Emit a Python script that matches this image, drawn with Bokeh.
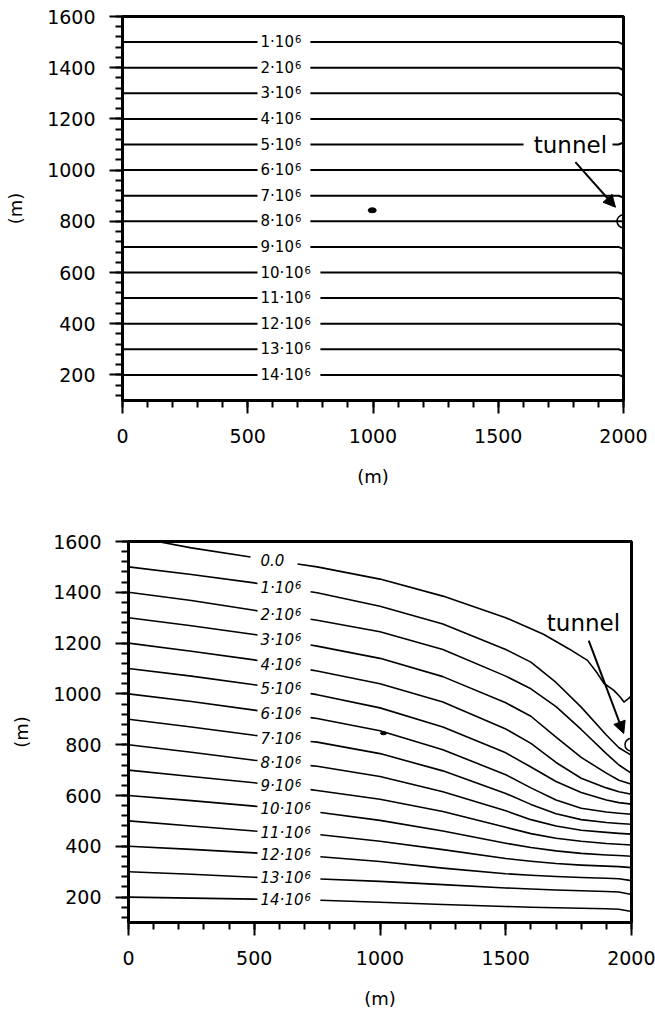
import numpy as np
from bokeh.plotting import figure
from bokeh.models import Range1d, SingleIntervalTicker, Arrow, NormalHead
from bokeh.layouts import column
from bokeh.embed import file_html
from bokeh.resources import INLINE
from bokeh.core.properties import value

FONT = "DejaVu Sans"

# ---------------- data ----------------
levels = [1, 2, 3, 4, 5, 6, 7, 8, 9, 10, 11, 12, 13, 14]
level_base = [f"{n}\u00b710" for n in levels]
level_exp = ["6"] * len(levels)
zero_label = "0.0"

# top panel: horizontal contours (x positions and y at those positions)
top_x = [0, 1980, 2000]
top_y_start = [1500, 1400, 1300, 1200, 1100, 1000, 900, 800, 700, 600, 500, 400, 300, 200]
top_y_end = [1490, 1390, 1290, 1190, 1108, 992, 893, 800, 692, 593, 493, 393, 293, 193]

# bottom panel: curved contours sampled at these x positions
bot_x = [0, 250, 500, 750, 1000, 1250, 1500, 1600, 1700, 1800, 1900, 1950, 2000]
c01 = [1500, 1470, 1437, 1398, 1345, 1275, 1175, 1125, 1045, 948, 838, 788, 758]
c02 = [1400, 1368, 1329, 1290, 1245, 1175, 1070, 1020, 950, 860, 765, 720, 687]
c03 = [1300, 1268, 1234, 1188, 1140, 1068, 965, 912, 830, 750, 688, 660, 644]
c04 = [1200, 1168, 1134, 1090, 1040, 968, 862, 805, 730, 668, 630, 615, 605]
c05 = [1100, 1070, 1036, 997, 945, 870, 768, 712, 655, 612, 582, 572, 566]
c06 = [1000, 970, 936, 903, 855, 780, 682, 630, 582, 550, 535, 530, 526]
c07 = [900, 870, 837, 810, 765, 697, 608, 565, 528, 505, 494, 490, 487]
c08 = [800, 770, 739, 715, 675, 615, 540, 505, 480, 463, 455, 451, 448]
c09 = [700, 675, 650, 620, 585, 537, 475, 450, 432, 420, 411, 408, 405]
c10 = [600, 580, 558, 535, 502, 460, 412, 395, 382, 372, 366, 364, 361]
c11 = [500, 480, 460, 447, 420, 387, 352, 341, 332, 326, 322, 320, 316]
c12 = [400, 388, 374, 360, 340, 314, 292, 286, 281, 277, 274, 272, 265]
c13 = [300, 290, 278, 272, 262, 249, 236, 232, 228, 225, 222, 220, 210]
c14 = [200, 196, 192, 188, 180, 171, 163, 160, 158, 156, 154, 152, 143]
bot_curves = [c01, c02, c03, c04, c05, c06, c07, c08, c09, c10, c11, c12, c13, c14]

zero_x = [115, 250, 500, 750, 1000, 1250, 1500, 1650, 1750, 1825, 1865, 1890, 1930, 1955, 1970, 1990, 2000]
zero_y = [1600, 1575, 1537, 1500, 1452, 1385, 1300, 1235, 1178, 1132, 1080, 1042, 1014, 988, 968, 983, 995]

# annotation points
tunnel_x, tunnel_y = 2000, 800
top_dot = (997, 843)
bot_dot = (1014, 845)
top_arrow = (1808, 1031, 1968, 855)
bot_arrow = (1830, 1210, 1969, 844)
top_tunnel_text = (1788, 1100)
bot_tunnel_text = (1809, 1278)

LAB_SIZE = 15   # px, contour label base text
EXP_SIZE = 10   # px, exponent
DIGIT_W = 0.636  # DejaVu Sans advance widths (em)
DOT_W = 0.318


def base_width(s):
    return sum(DOT_W if ch == "\u00b7" else DIGIT_W for ch in s) * LAB_SIZE


def segments(x, y, gaps):
    x = np.asarray(x, float)
    y = np.asarray(y, float)
    edges = [x[0]] + [v for g in sorted(gaps) for v in g] + [x[-1]]
    xs, ys = [], []
    for lo, hi in zip(edges[0::2], edges[1::2]):
        inner = (x > lo) & (x < hi)
        sx = np.concatenate([[lo], x[inner], [hi]])
        xs.append(list(sx))
        ys.append(list(np.interp(sx, x, y)))
    return xs, ys


def make_fig(height, left, right, top, bottom):
    p = figure(width=655, height=height, output_backend="svg", toolbar_location=None,
               x_range=Range1d(0, 2000), y_range=Range1d(100, 1600),
               min_border_left=left, min_border_right=right,
               min_border_top=top, min_border_bottom=bottom, frame_align=False)
    p.xgrid.visible = False
    p.ygrid.visible = False
    p.background_fill_color = "white"
    p.border_fill_color = "white"
    p.outline_line_color = "black"
    p.outline_line_width = 3
    p.outline_line_alpha = 1
    p.xaxis.ticker = SingleIntervalTicker(interval=500, num_minor_ticks=5)
    p.yaxis.ticker = SingleIntervalTicker(interval=200, num_minor_ticks=5)
    for ax in (p.xaxis, p.yaxis):
        ax.axis_line_width = 3
        ax.major_tick_line_width = 2
        ax.minor_tick_line_width = 2
        ax.major_tick_out = 13
        ax.major_tick_in = 0
        ax.minor_tick_out = 7
        ax.minor_tick_in = 0
        ax.major_label_text_font = FONT
        ax.major_label_text_font_size = "19px"
        ax.major_label_text_color = "black"
        ax.axis_label = "(m)"
        ax.axis_label_text_font = FONT
        ax.axis_label_text_font_size = "18px"
        ax.axis_label_text_font_style = "normal"
        ax.axis_label_text_color = "black"
    p.xaxis.major_label_standoff = 15
    p.yaxis.major_label_standoff = 14
    p.xaxis.axis_label_standoff = 20
    p.yaxis.axis_label_standoff = 18
    return p


def add_labels(p, xs_lab, ys_lab, bases, exps, italic):
    style = value("italic" if italic else "normal")
    p.text(x=xs_lab, y=ys_lab, text=bases, text_font=value(FONT),
           text_font_size=value(f"{LAB_SIZE}px"), text_align="left", text_baseline="middle",
           text_color="black", text_font_style=style)
    ex = [x for x, e in zip(xs_lab, exps) if e]
    ey = [y for y, e in zip(ys_lab, exps) if e]
    eo = [base_width(b) + 1 for b, e in zip(bases, exps) if e]
    et = [e for e in exps if e]
    p.text(x=ex, y=ey, text=et, x_offset=eo, y_offset=-3, text_font=value(FONT),
           text_font_size=value(f"{EXP_SIZE}px"), text_align="left", text_baseline="middle",
           text_color="black", text_font_style=style)


def add_tunnel(p, txt, arrow):
    p.text(x=[txt[0]], y=[txt[1]], text=["tunnel"],
           text_font=value(FONT), text_font_size=value("23px"), text_align="center",
           text_baseline="middle", text_color="black")
    p.add_layout(Arrow(end=NormalHead(size=12, fill_color="black", line_color="black"),
                       x_start=arrow[0], y_start=arrow[1],
                       x_end=arrow[2], y_end=arrow[3], line_width=2, line_color="black"))
    p.scatter([tunnel_x], [tunnel_y], marker="circle", size=13, fill_alpha=0,
              line_color="black", line_width=1.5)


# ---------------- top panel ----------------
p1 = make_fig(510, 122, 32, 16, 110)
lab_x_top = 551
gap_top_1 = (539, 750)
gap_top_2 = (539, 790)
mx, my, lx, ly = [], [], [], []
for n, ys0, ys1 in zip(levels, top_y_start, top_y_end):
    ys = [ys0, ys0, ys1]
    gap = gap_top_1 if n < 10 else gap_top_2
    gaps = [gap]
    if n == 5:
        gaps.append((1601, 1956))
    sx, sy = segments(top_x, ys, gaps)
    mx += sx
    my += sy
    lx.append(lab_x_top)
    ly.append(float(np.interp((gap[0] + gap[1]) / 2, top_x, ys)))
p1.multi_line(xs=mx, ys=my, line_color="black", line_width=2)
add_labels(p1, lx, ly, level_base, level_exp, False)
add_tunnel(p1, top_tunnel_text, top_arrow)
p1.ellipse(x=[top_dot[0]], y=[top_dot[1]], width=8, height=5, width_units="screen",
           height_units="screen", fill_color="black", line_color="black")

# ---------------- bottom panel ----------------
p2 = make_fig(504, 128, 24, 31, 92)
lab_x_bot = 525
gap_bot_0 = (485, 672)
gap_bot_1 = (513, 724)
gap_bot_2 = (513, 763)
mx, my, lx, ly = [], [], [], []
sx, sy = segments(zero_x, zero_y, [gap_bot_0])
mx += sx
my += sy
lx.append(lab_x_bot)
ly.append(float(np.interp((gap_bot_0[0] + gap_bot_0[1]) / 2, zero_x, zero_y)))
for n, ys in zip(levels, bot_curves):
    gap = gap_bot_1 if n < 10 else gap_bot_2
    sx, sy = segments(bot_x, ys, [gap])
    mx += sx
    my += sy
    lx.append(lab_x_bot)
    ly.append(float(np.interp((gap[0] + gap[1]) / 2, bot_x, ys)))
p2.multi_line(xs=mx, ys=my, line_color="black", line_width=1.6, line_join="round")
add_labels(p2, lx, ly, [zero_label] + level_base, [""] + level_exp, True)
add_tunnel(p2, bot_tunnel_text, bot_arrow)
p2.ellipse(x=[bot_dot[0]], y=[bot_dot[1]], width=6, height=3, width_units="screen",
           height_units="screen", fill_color="black", line_color="black")

layout = column(p1, p2, spacing=0)
open("out.html", "w").write(file_html(layout, INLINE))
